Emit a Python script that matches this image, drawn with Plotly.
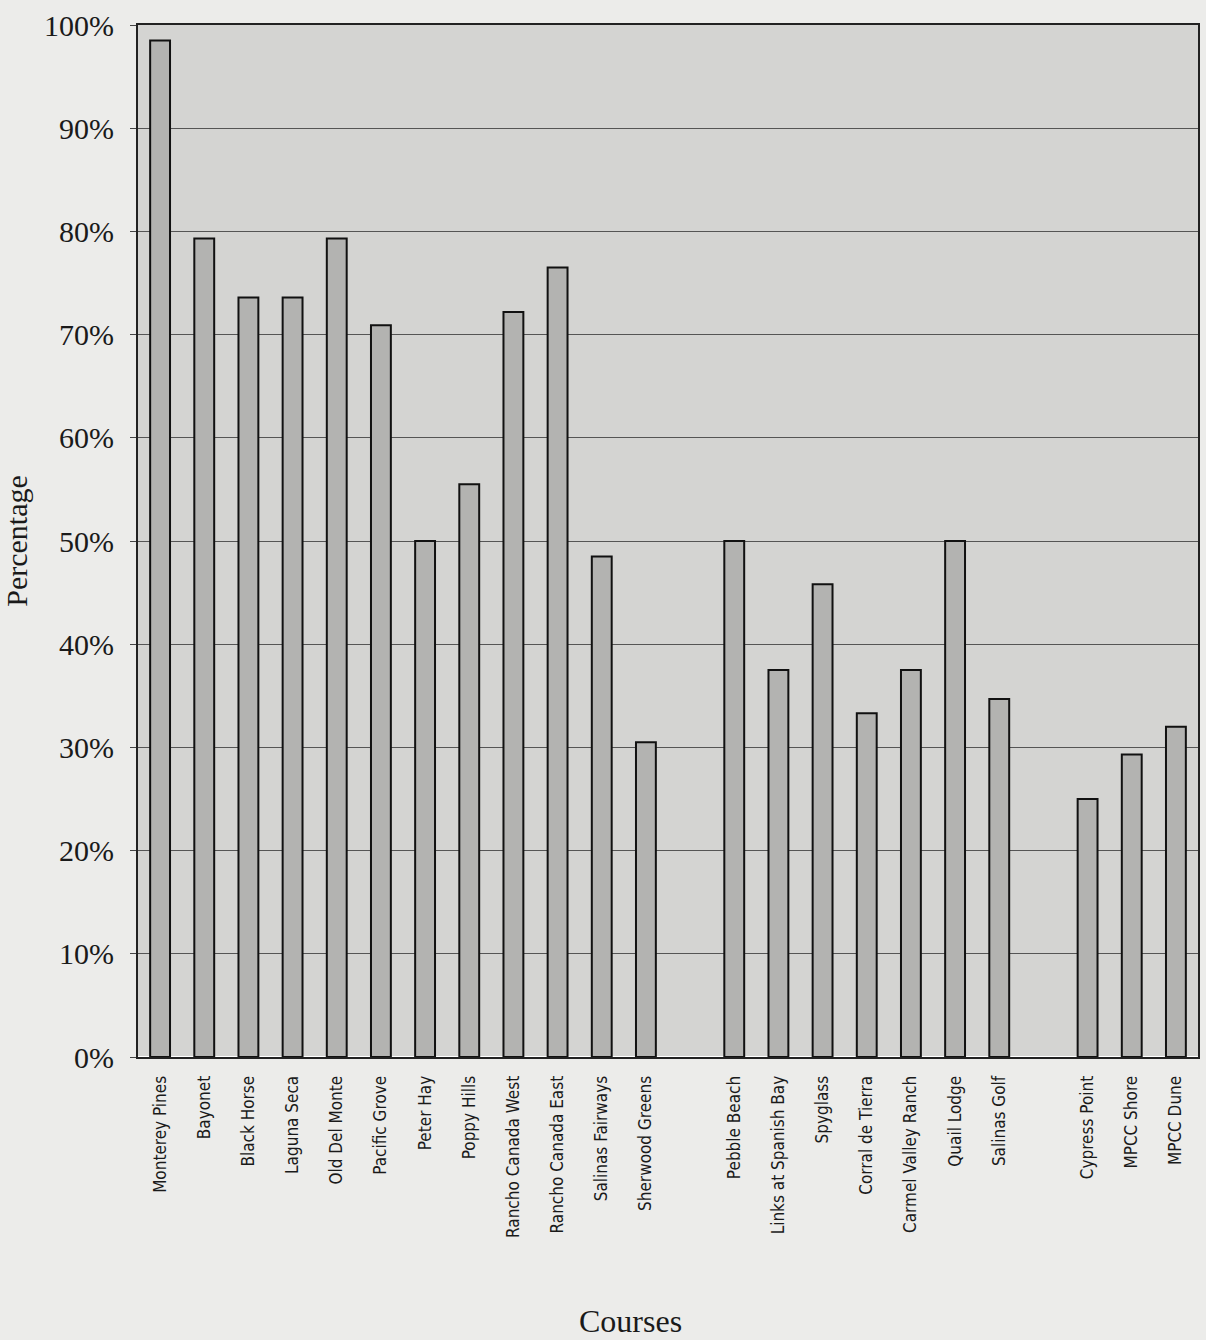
import plotly.graph_objects as go

courses = ["Monterey Pines", "Bayonet", "Black Horse", "Laguna Seca", "Old Del Monte",
           "Pacific Grove", "Peter Hay", "Poppy Hills", "Rancho Canada West",
           "Rancho Canada East", "Salinas Fairways", "Sherwood Greens", " ",
           "Pebble Beach", "Links at Spanish Bay", "Spyglass", "Corral de Tierra",
           "Carmel Valley Ranch", "Quail Lodge", "Salinas Golf", "  ",
           "Cypress Point", "MPCC Shore", "MPCC Dune"]
percent = [98.5, 79.3, 73.6, 73.6, 79.3, 70.9, 50.0, 55.5, 72.2, 76.5, 48.5, 30.5, None,
           50.0, 37.5, 45.8, 33.3, 37.5, 50.0, 34.7, None,
           25.0, 29.3, 32.0]
yticks = [0, 10, 20, 30, 40, 50, 60, 70, 80, 90, 100]
ytext = [f"{v}%" for v in yticks]

fig = go.Figure(go.Bar(
    x=courses, y=percent,
    marker=dict(color="#b3b3b1", line=dict(color="#111111", width=2)),
    hoverinfo="x+y",
))

fig.update_layout(
    width=1206, height=1340,
    margin=dict(l=135, r=6, t=25, b=283),
    paper_bgcolor="#ececea",
    plot_bgcolor="#d4d4d2",
    bargap=0.55,
    showlegend=False,
    font=dict(family="Liberation Serif", color="#1a1a1a"),
    annotations=[dict(text="Courses", xref="paper", yref="paper", x=0.465, y=-0.256,
                      xanchor="center", yanchor="middle", showarrow=False,
                      font=dict(family="Liberation Serif", size=32, color="#1a1a1a"))],
)
fig.update_xaxes(
    type="category", tickangle=-90, ticklabelstandoff=10,
    tickfont=dict(family="DejaVu Sans Condensed, Liberation Sans Narrow, Liberation Sans", size=17,
                  color="#1a1a1a"),
    showline=True, linecolor="#222222", linewidth=2, mirror=True,
    showgrid=False, ticks="",
)
fig.update_yaxes(
    range=[0, 100], tickvals=yticks, ticktext=ytext,
    tickfont=dict(family="Liberation Serif", size=30, color="#1a1a1a"),
    ticks="outside", ticklen=6, tickcolor="#444444", ticklabelstandoff=10,
    showline=True, linecolor="#222222", linewidth=2, mirror=True,
    showgrid=True, gridcolor="#555555", gridwidth=1,
    title=dict(text="Percentage", font=dict(family="Liberation Serif", size=30, color="#1a1a1a"),
               standoff=17),
)

fig.write_html("out.html")
